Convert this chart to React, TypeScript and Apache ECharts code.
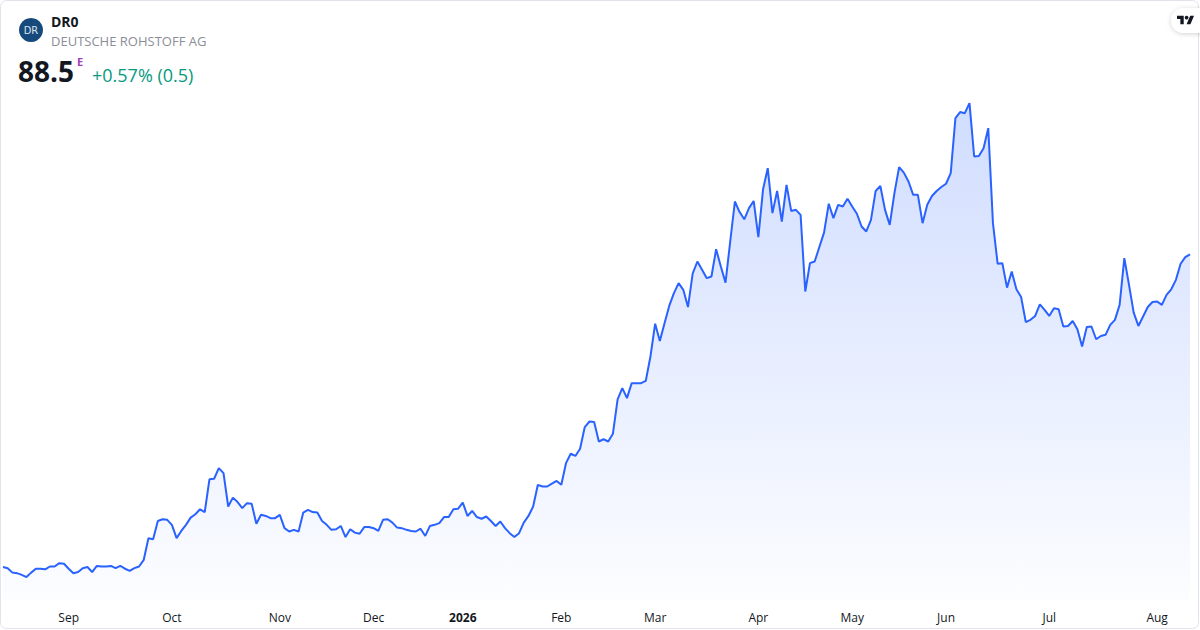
import React, { useEffect, useRef } from "react";
import * as echarts from "echarts";

// ---- Data ----
const HOLIDAYS = ["2025-12-24", "2025-12-25", "2025-12-26", "2025-12-31", "2026-01-01", "2026-04-03", "2026-04-06", "2026-05-01"];
const FIRST_DAY = "2025-08-12";
const LAST_DAY = "2026-08-12";
const MONTH_LABELS = ["Jan", "Feb", "Mar", "Apr", "May", "Jun", "Jul", "Aug", "Sep", "Oct", "Nov", "Dec"];

const priceAugSep2025 = [32.2, 32.0, 31.2, 31.1, 30.8, 30.4, 31.2, 31.9, 31.9, 31.8, 32.3, 32.3, 32.9, 32.8, 31.9, 31.1, 31.3, 32.0, 32.2, 31.3, 32.4, 32.3, 32.3, 32.4, 32.0, 32.4, 31.9, 31.5, 32.0, 32.3, 33.5, 37.4, 37.2, 40.5, 40.8, 40.7];
const priceQ4_2025 = [39.8, 37.4, 38.7, 39.8, 41.1, 41.7, 42.6, 42.1, 48.0, 48.1, 50.0, 49.1, 43.1, 44.7, 43.9, 42.8, 43.7, 43.6, 40.0, 41.6, 41.4, 41.0, 41.0, 41.6, 39.2, 38.6, 38.9, 38.6, 42.0, 42.5, 42.1, 42.0, 40.5, 39.8, 38.9, 39.0, 39.6, 37.6, 39.0, 38.4, 38.2, 39.4, 39.4, 39.2, 38.7, 40.7, 40.8, 40.2, 39.3, 39.2, 38.9, 38.7, 38.6, 39.1, 37.8, 39.6, 39.8, 40.1, 41.2, 41.2, 42.6, 42.7];
const priceQ1_2026 = [43.8, 41.4, 42.3, 41.2, 40.9, 41.3, 40.5, 39.6, 40.4, 39.2, 38.3, 37.6, 38.3, 40.2, 41.4, 43.1, 47.0, 46.7, 46.7, 47.2, 47.7, 47.0, 50.9, 52.6, 52.2, 53.5, 57.4, 58.4, 58.3, 54.8, 55.2, 54.8, 56.2, 62.4, 64.4, 62.6, 65.3, 65.3, 65.3, 65.7, 70.1, 76.0, 72.9, 76.1, 79.2, 81.5, 83.3, 82.1, 79.0, 85.0, 87.2, 85.7, 84.2, 84.5, 89.4, 86.3, 83.4, 90.8, 98.0, 96.1, 94.8, 96.8, 98.1];
const priceQ2_2026 = [91.6, 100.2, 104.0, 95.9, 99.9, 94.4, 101.0, 96.3, 96.5, 95.6, 81.8, 86.9, 87.2, 89.8, 92.4, 97.6, 95.0, 97.4, 97.1, 98.5, 97.1, 95.8, 93.5, 92.6, 94.7, 99.9, 100.8, 96.5, 93.8, 99.5, 104.2, 103.2, 101.6, 99.2, 99.2, 94.1, 97.4, 99.0, 99.9, 100.6, 101.2, 103.1, 113.0, 114.1, 113.9, 115.7, 106.1, 106.2, 107.6, 111.2, 94.1, 86.8, 86.9, 82.5, 85.4, 82.2, 80.8, 76.3, 76.7, 77.4, 79.5, 78.5];
const priceJulAug2026 = [77.4, 78.8, 78.6, 75.5, 75.6, 76.5, 75.0, 71.9, 75.4, 75.5, 73.2, 73.8, 74.0, 75.8, 76.7, 79.4, 87.8, 83.0, 78.0, 75.6, 77.3, 79.0, 79.9, 80.0, 79.4, 81.2, 82.2, 83.9, 86.8, 88.0, 88.5];

const TICKER = "DR0";
const COMPANY = "DEUTSCHE ROHSTOFF AG";
const LAST_PRICE = "88.5";
const CHANGE_TEXT = "+0.57% (0.5)";

function tradingDays(): string[] {
  const out: string[] = [];
  const [y0, m0, d0] = FIRST_DAY.split("-").map(Number);
  const [y1, m1, d1] = LAST_DAY.split("-").map(Number);
  const d = new Date(Date.UTC(y0, m0 - 1, d0));
  const end = Date.UTC(y1, m1 - 1, d1);
  while (d.getTime() <= end) {
    const wd = d.getUTCDay();
    const s = d.toISOString().slice(0, 10);
    if (wd !== 0 && wd !== 6 && !HOLIDAYS.includes(s)) out.push(s);
    d.setUTCDate(d.getUTCDate() + 1);
  }
  return out;
}

const TV_PATH = "M14 22H7V11H0V4h14v18zM28 22h-8l7.5-18h8L28 22z";
let registered = false;
function registerShapes() {
  if (registered) return;
  echarts.graphic.registerShape("tvlogo", (echarts.graphic as any).extendPath(TV_PATH, {}));
  registered = true;
}

const FONT = "'Open Sans', 'Noto Sans', sans-serif";

export default function App() {
  const ref = useRef<HTMLDivElement>(null);
  useEffect(() => {
    document.body.style.margin = "0";
    registerShapes();
    if (!ref.current) return;
    const chart = echarts.init(ref.current, null, { renderer: "svg" });
    const dates = tradingDays();
    const prices = [...priceAugSep2025, ...priceQ4_2025, ...priceQ1_2026, ...priceQ2_2026, ...priceJulAug2026];
    const isMonthStart = (i: number) => i > 0 && dates[i].slice(0, 7) !== dates[i - 1].slice(0, 7);

    chart.setOption({
      animation: false,
      backgroundColor: "#ffffff",
      grid: { left: 3, right: 10, top: 100, bottom: 30 },
      xAxis: {
        type: "category",
        data: dates,
        boundaryGap: false,
        axisLine: { show: false },
        axisTick: { show: false },
        splitLine: { show: false },
        axisLabel: {
          interval: (index: number) => isMonthStart(index),
          margin: 11,
          color: "#131722",
          fontSize: 12,
          fontFamily: FONT,
          formatter: (value: string) => {
            const m = Number(value.slice(5, 7));
            if (m === 1) return "{b|" + value.slice(0, 4) + "}";
            return MONTH_LABELS[m - 1];
          },
          rich: { b: { fontWeight: "bold", fontSize: 12, color: "#131722", fontFamily: FONT } },
        },
      },
      yAxis: { type: "value", min: 26.27, max: 116.27, show: false, splitLine: { show: false } },
      series: [
        {
          type: "line",
          data: prices,
          showSymbol: false,
          symbol: "none",
          lineStyle: { color: "#2962FF", width: 2 },
          itemStyle: { color: "#2962FF" },
          areaStyle: {
            color: new echarts.graphic.LinearGradient(0, 0, 0, 1, [
              { offset: 0, color: "rgba(41,98,255,0.31)" },
              { offset: 1, color: "rgba(41,98,255,0.02)" },
            ]),
          },
        },
      ],
      graphic: [
        { type: "rect", shape: { x: 0.5, y: 0.5, width: 1198, height: 628, r: 6 }, style: { fill: "none", stroke: "#e0e3eb", lineWidth: 1 }, z: 10, silent: true },
        { type: "circle", shape: { cx: 31, cy: 30, r: 12 }, style: { fill: "#174a7c" }, z: 10 },
        { type: "text", x: 31, y: 30, style: { text: "DR", fill: "#dbe4ee", font: "300 11px 'DejaVu Sans Condensed', sans-serif", align: "center", verticalAlign: "middle" }, z: 11 },
        { type: "text", x: 51, y: 21, style: { text: TICKER, fill: "#131722", font: "bold 14px " + FONT, verticalAlign: "middle" }, z: 10 },
        { type: "text", x: 51, y: 40.5, style: { text: COMPANY, fill: "#8a8d96", font: "13px " + FONT, verticalAlign: "middle" }, z: 10 },
        { type: "text", x: 18, y: 71, style: { text: LAST_PRICE, fill: "#131722", font: "bold 28px " + FONT, verticalAlign: "middle" }, z: 10 },
        { type: "text", x: 77, y: 61, style: { text: "E", fill: "#a040b8", font: "bold 11px " + FONT, verticalAlign: "middle" }, z: 10 },
        { type: "text", x: 92, y: 74.5, style: { text: CHANGE_TEXT, fill: "#089981", font: "18px " + FONT, verticalAlign: "middle" }, z: 10 },
        { type: "rect", shape: { x: 1171, y: 8, width: 44, height: 25, r: 12.5 }, style: { fill: "#ffffff", shadowBlur: 5, shadowColor: "rgba(0,0,0,0.18)", shadowOffsetY: 1 }, z: 10 },
        { type: "tvlogo", x: 1177, y: 13.8, scaleX: 0.48, scaleY: 0.48, style: { fill: "#131722" }, z: 11 },
        { type: "circle", shape: { cx: 1186.6, cy: 17.6, r: 1.9 }, style: { fill: "#131722" }, z: 11 },
      ],
    });
    return () => chart.dispose();
  }, []);
  return <div ref={ref} style={{ width: 1200, height: 630 }} />;
}
